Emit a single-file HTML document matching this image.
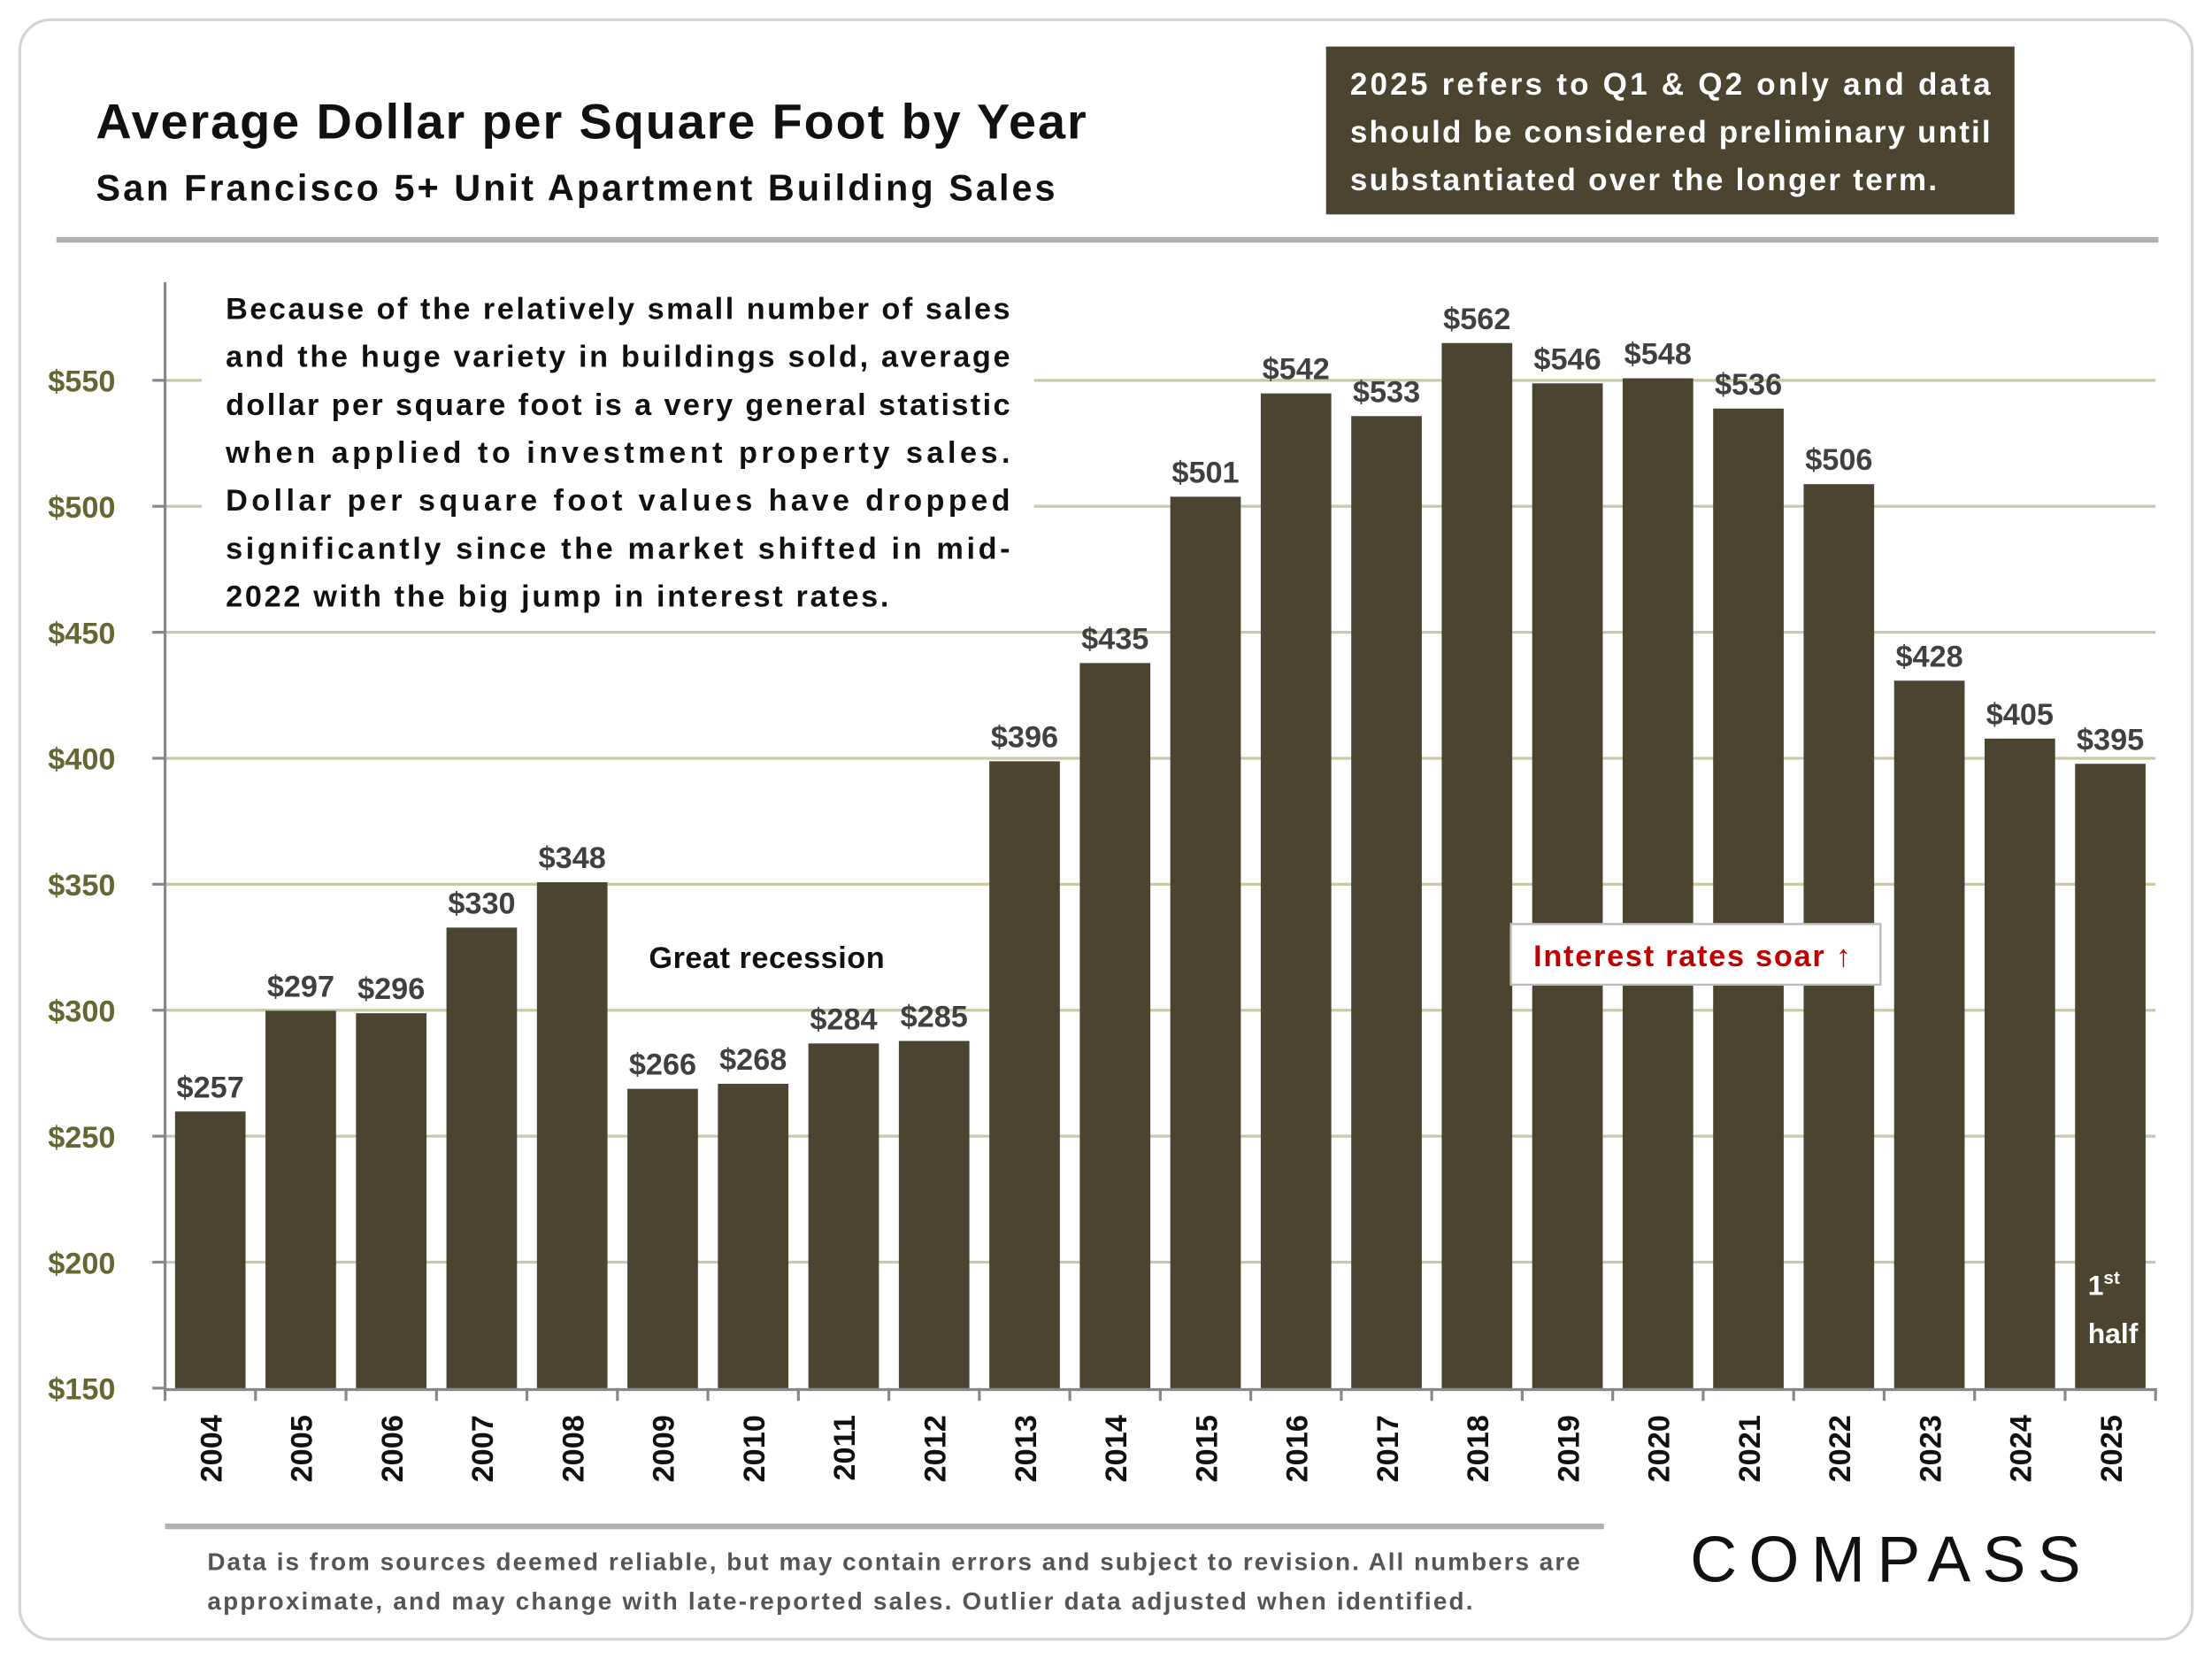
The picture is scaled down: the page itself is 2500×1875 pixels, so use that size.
<!DOCTYPE html>
<html><head><meta charset="utf-8"><style>
html,body{margin:0;padding:0;background:#fff}
svg{display:block}
text{font-family:"Liberation Sans",Arial,sans-serif;font-weight:bold}
</style></head><body>
<svg id="chart" width="2500" height="1875" viewBox="0 0 1568 1176" xmlns="http://www.w3.org/2000/svg">
<rect x="14" y="14" width="1540" height="1148" rx="22" fill="#fff" stroke="#d4d4d4" stroke-width="2"/>
<text x="68" y="98" font-size="35" fill="#111" textLength="702">Average Dollar per Square Foot by Year</text>
<text x="68" y="142" font-size="26" fill="#111" textLength="680">San Francisco 5+ Unit Apartment Building Sales</text>
<rect x="940" y="33" width="488" height="119" fill="#4a4430"/>
<g fill="#fff" font-size="22">
<text x="957" y="67" textLength="454">2025 refers to Q1 &amp; Q2 only and data</text>
<text x="957" y="101" textLength="454">should be considered preliminary until</text>
<text x="957" y="135" textLength="416">substantiated over the longer term.</text>
</g>
<rect x="40" y="168" width="1490" height="4" fill="#b0b0b0"/>
<g id="grid"></g>
<g id="bars"></g>
<rect x="143" y="200" width="590" height="245" fill="#fff"/>
<g font-size="21.5" fill="#111">
<text x="160" y="226" textLength="556">Because of the relatively small number of sales</text>
<text x="160" y="260" textLength="556">and the huge variety in buildings sold, average</text>
<text x="160" y="294" textLength="556">dollar per square foot is a very general statistic</text>
<text x="160" y="328" textLength="556">when applied to investment property sales.</text>
<text x="160" y="362" textLength="556">Dollar per square foot values have dropped</text>
<text x="160" y="396" textLength="556">significantly since the market shifted in mid-</text>
<text x="160" y="430" textLength="470">2022 with the big jump in interest rates.</text>
</g>
<text x="460" y="686" font-size="21.5" fill="#111" textLength="167">Great recession</text>
<rect x="1071" y="655" width="262" height="43" fill="#fff" stroke="#bbb" stroke-width="1.5"/>
<text x="1087" y="685" font-size="21.5" fill="#c00000" textLength="225">Interest rates soar ↑</text>
<text x="1480" y="918" font-size="20" fill="#fff">1<tspan font-size="13" dy="-8">st</tspan></text>
<text x="1480" y="952" font-size="20" fill="#fff">half</text>
<rect x="117" y="1080" width="1020" height="4" fill="#b0b0b0"/>
<g font-size="17.5" fill="#555">
<text x="147" y="1113" textLength="973">Data is from sources deemed reliable, but may contain errors and subject to revision. All numbers are</text>
<text x="147" y="1141" textLength="897">approximate, and may change with late-reported sales.  Outlier data adjusted when identified.</text>
</g>
<text x="1198" y="1121" font-size="46" font-weight="normal" fill="#111" letter-spacing="7" textLength="284" style="font-weight:normal">COMPASS</text>
</svg>
<script>
const years=["2004","2005","2006","2007","2008","2009","2010","2011","2012","2013","2014","2015","2016","2017","2018","2019","2020","2021","2022","2023","2024","2025"];
const values=[257,297,296,330,348,266,268,284,285,396,435,501,542,533,562,546,548,536,506,428,405,395];
const valueLabels=["$257","$297","$296","$330","$348","$266","$268","$284","$285","$396","$435","$501","$542","$533","$562","$546","$548","$536","$506","$428","$405","$395"];
const yTicks=[150,200,250,300,350,400,450,500,550];
const yTickLabels=["$150","$200","$250","$300","$350","$400","$450","$500","$550"];

const NS="http://www.w3.org/2000/svg";
const X0=117,X1=1528,Y0=984,YMIN=150,PXPER=1.786;
const band=(X1-X0)/years.length, bw=50;
function yScale(v){return Y0-(v-YMIN)*PXPER-5;}
function yTickScale(v){return Y0-(v-YMIN)*PXPER;}
function xCenter(i){return X0+band*(i+0.5);}
function mk(tag,attrs,parent){const e=document.createElementNS(NS,tag);for(const k in attrs)e.setAttribute(k,attrs[k]);parent.appendChild(e);return e;}
const grid=document.getElementById('grid'),bars=document.getElementById('bars');
yTicks.forEach((t,i)=>{
  const y=yTickScale(t);
  if(t>YMIN){
    const g=mk('line',{x1:X0,x2:X1,y1:y,y2:y,stroke:'#c9c9a9','stroke-width':2},grid);
    
    
  }
  const tk=mk('line',{x1:X0-9,x2:X0,y1:y,y2:y,stroke:'#888','stroke-width':2},grid);
  
  
  const lb=mk('text',{x:34,y:y+8,'font-size':21.5,fill:'#666633'},grid);
  lb.textContent=yTickLabels[i];
  
  
});
const ax=mk('line',{x1:X0,x2:X0,y1:200,y2:Y0+1,stroke:'#888','stroke-width':2},grid);


const xa=mk('line',{x1:X0,x2:X1,y1:Y0+1,y2:Y0+1,stroke:'#888','stroke-width':2},grid);


for(let i=0;i<=years.length;i++){
  const x=X0+band*i;
  const t=mk('line',{x1:x,x2:x,y1:Y0,y2:Y0+9,stroke:'#888','stroke-width':2},grid);
  
  
}
values.forEach((v,i)=>{
  const cx=xCenter(i),top=yScale(v);
  const r=mk('rect',{x:cx-bw/2,y:top,width:bw,height:Y0-top,fill:'#4a4430'},bars);
  
  
  const vl=mk('text',{x:cx,y:top-10,'font-size':21.5,fill:'#404040','text-anchor':'middle'},bars);
  vl.textContent=valueLabels[i];
  
  
  const yl=mk('text',{x:0,y:0,'font-size':21.5,fill:'#111','text-anchor':'end',transform:'translate('+(cx+8)+',1003) rotate(-90)'},bars);
  yl.textContent=years[i];
  
  
});
</script>
</body></html>
